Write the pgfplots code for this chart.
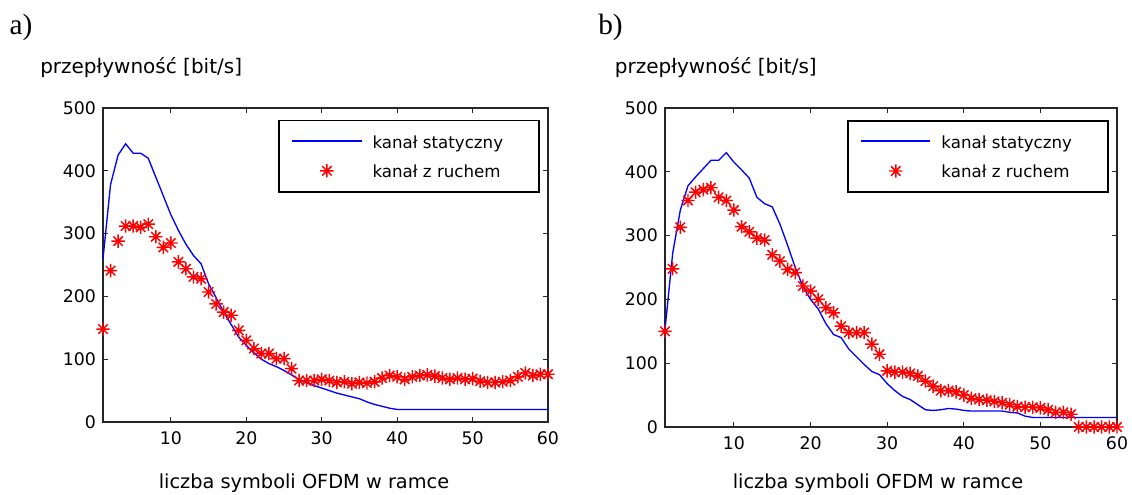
\documentclass[border=0pt]{standalone}
\usepackage{pgfplots}
\pgfplotsset{compat=1.18}
\usepackage{fontspec}
\setmainfont{DejaVu Sans}
\newfontfamily\seriffont{Liberation Serif}

\pgfdeclareplotmark{mstar}{%
  \pgfpathmoveto{\pgfqpoint{-\pgfplotmarksize}{0pt}}%
  \pgfpathlineto{\pgfqpoint{\pgfplotmarksize}{0pt}}%
  \pgfpathmoveto{\pgfqpoint{0pt}{-\pgfplotmarksize}}%
  \pgfpathlineto{\pgfqpoint{0pt}{\pgfplotmarksize}}%
  \pgfpathmoveto{\pgfqpoint{-.707\pgfplotmarksize}{-.707\pgfplotmarksize}}%
  \pgfpathlineto{\pgfqpoint{.707\pgfplotmarksize}{.707\pgfplotmarksize}}%
  \pgfpathmoveto{\pgfqpoint{-.707\pgfplotmarksize}{.707\pgfplotmarksize}}%
  \pgfpathlineto{\pgfqpoint{.707\pgfplotmarksize}{-.707\pgfplotmarksize}}%
  \pgfusepathqstroke}

\definecolor{mblue}{RGB}{0,0,255}
\definecolor{mred}{RGB}{255,0,0}

\pgfplotstableread{
x y
1 260
2 378
3 425
4 443
5 428
6 428
7 420
8 390
9 360
10 330
11 305
12 283
13 265
14 252
15 220
16 198
17 175
18 155
19 135
20 122
21 110
22 100
23 93
24 88
25 82
26 75
27 67
28 62
29 58
30 54
31 50
32 46
33 43
34 40
35 37
36 32
37 28
38 25
39 22
40 20
41 20
42 20
43 20
44 20
45 20
46 20
47 20
48 20
49 20
50 20
51 20
52 20
53 20
54 20
55 20
56 20
57 20
58 20
59 20
60 20
}\staticA

\pgfplotstableread{
x y
1 148
2 241
3 288
4 312
5 312
6 310
7 315
8 295
9 278
10 285
11 255
12 244
13 231
14 228
15 207
16 188
17 175
18 170
19 146
20 130
21 117
22 109
23 109
24 101
25 101
26 85
27 66
28 66
29 66
30 68
31 66
32 63
33 64
34 61
35 63
36 62
37 64
38 70
39 74
40 72
41 68
42 72
43 74
44 75
45 73
46 70
47 68
48 70
49 68
50 69
51 65
52 63
53 63
54 64
55 66
56 72
57 78
58 74
59 76
60 76
}\movingA

\pgfplotstableread{
x y
1 153
2 272
3 340
4 378
5 392
6 405
7 418
8 418
9 430
10 415
11 403
12 390
13 360
14 350
15 345
16 318
17 285
18 250
19 220
20 200
21 185
22 162
23 145
24 140
25 122
26 110
27 98
28 87
29 82
30 68
31 57
32 48
33 43
34 35
35 27
36 26
37 27
38 29
39 28
40 26
41 25
42 25
43 25
44 25
45 25
46 23
47 22
48 17
49 15
50 15
51 15
52 15
53 15
54 15
55 15
56 15
57 15
58 15
59 15
60 15
}\staticB

\pgfplotstableread{
x y
1 150
2 248
3 313
4 355
5 368
6 372
7 375
8 360
9 355
10 340
11 314
12 306
13 296
14 293
15 270
16 260
17 247
18 242
19 221
20 213
21 200
22 187
23 179
24 158
25 148
26 148
27 148
28 130
29 114
30 88
31 86
32 86
33 84
34 80
35 72
36 64
37 57
38 57
39 55
40 50
41 45
42 43
43 42
44 40
45 38
46 35
47 32
48 31
49 31
50 30
51 27
52 23
53 23
54 20
55 0
56 0
57 0
58 0
59 0
60 0
}\movingB

\pgfplotsset{
  mstyle/.style={
    scale only axis,
    anchor=south west,
    xmin=1, xmax=60, ymin=0, ymax=500,
    xtick={10,20,...,60}, ytick={0,100,...,500},
    tick align=inside,
    major tick length=4pt,
    axis line style={line width=0.8pt, black!85},
    every tick/.style={line width=0.8pt, black!85},
    clip=false,
    /pgf/number format/assume math mode=true,
    ticklabel style={font=\fontsize{13}{15}\selectfont},
    yticklabel style={xshift=-1.7pt},
    xticklabel style={yshift=-4pt},
    legend image code/.code={\draw[mark repeat=2,mark phase=2,##1] plot coordinates {(0pt,0pt) (26pt,0pt) (52pt,0pt)};},
    legend style={
      at={(0.982,0.963)}, anchor=north east,
      draw=black, line width=1.3pt,
      font=\fontsize{12.5}{14}\selectfont,
      nodes={inner sep=0pt, text height=13pt, text depth=3pt},
      inner xsep=9pt, inner ysep=8pt,
      row sep=5.75pt, column sep=7.5pt,
    },
    legend cell align=left,
  },
  blueline/.style={draw=mblue, color=mblue, line width=1pt, no markers,
    legend image code/.code={\draw[draw=mblue, line width=1.5pt] (0pt,0.5pt) -- (52pt,0.5pt);}},
}

\begin{document}
\begin{tikzpicture}
\path[use as bounding box] (0,0) rectangle (849pt,371.25pt);

% panel labels
\node[anchor=base west, font=\seriffont\fontsize{22}{24}\selectfont, inner sep=0pt] at (7pt,345pt) {a)};
\node[anchor=base west, font=\seriffont\fontsize{22}{24}\selectfont, inner sep=0pt] at (448.5pt,345pt) {b)};
\node[anchor=base west, font=\fontsize{15}{18}\selectfont, inner sep=0pt] at (30pt,315.75pt) {przepływność [bit/s]};
\node[anchor=base west, font=\fontsize{15}{18}\selectfont, inner sep=0pt] at (461pt,315.75pt) {przepływność [bit/s]};
\node[anchor=base, font=\fontsize{14.5}{17}\selectfont, inner sep=0pt] at (228pt,5pt) {liczba symboli OFDM w ramce};
\node[anchor=base, font=\fontsize{14.5}{17}\selectfont, inner sep=0pt] at (658.5pt,5pt) {liczba symboli OFDM w ramce};

\begin{axis}[mstyle, at={(77.25pt,54.75pt)}, width=333.75pt, height=235.5pt]
\addplot[blueline] table[x=x,y=y] {\staticA};
\addlegendentry{kanał statyczny\hspace*{18pt}}
\addplot[draw=mred, color=mred, only marks, mark=mstar, mark size=5pt, line width=1.1pt] table[x=x,y=y] {\movingA};
\addlegendentry{kanał z ruchem}
\end{axis}

\begin{axis}[mstyle, at={(498.75pt,51pt)}, width=339pt, height=239.25pt]
\addplot[blueline] table[x=x,y=y] {\staticB};
\addlegendentry{kanał statyczny\hspace*{18pt}}
\addplot[draw=mred, color=mred, only marks, mark=mstar, mark size=5pt, line width=1.1pt] table[x=x,y=y] {\movingB};
\addlegendentry{kanał z ruchem}
\end{axis}
\end{tikzpicture}
\end{document}
